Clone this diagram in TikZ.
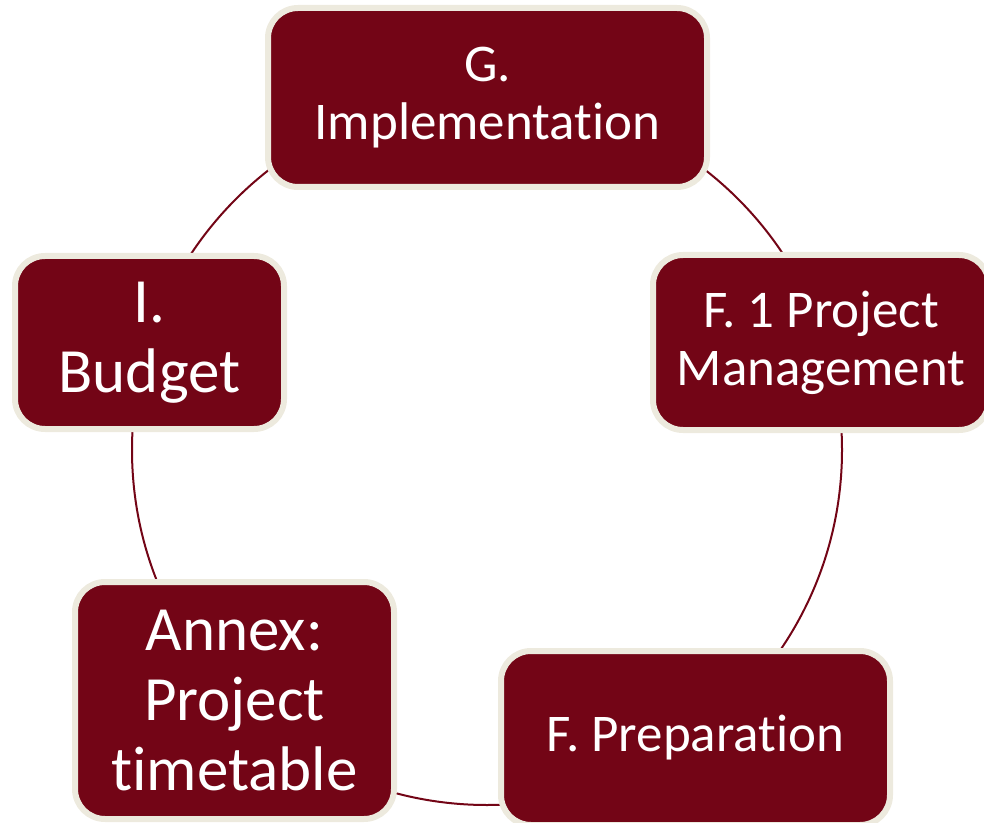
\documentclass[tikz,border=0pt]{standalone}
\usepackage{fontspec}
\setmainfont{Carlito}[Ligatures={NoCommon}]
\definecolor{boxred}{RGB}{115,5,22}
\definecolor{boxrim}{RGB}{237,234,222}
\tikzset{
  stage/.style={fill=boxred, draw=boxrim, line width=3pt, rounded corners=15pt,
    inner sep=0pt, align=center, text=white},
  small/.style={font=\fontsize{26.5}{29}\selectfont},
  large/.style={font=\fontsize{31.5}{35}\selectfont},
  ring/.style={draw=boxred, line width=1pt}
}
\begin{document}
\begin{tikzpicture}[x=0.5pt, y=-0.5pt]
  \useasboundingbox (0,0) rectangle (984,823);
  % the ring that links the stages
  \coordinate (hub) at (487,450);
  \draw[ring] (hub) circle [radius=177.5pt];
  % stages
  \node[stage, small, minimum width=219.5pt, minimum height=89.5pt]
    (impl) at (487.5,97.5) {G.\\Implementation};
  \node[stage, small, minimum width=168pt, minimum height=87.5pt]
    (mgmt) at (821,342.5) {F. 1 Project\\Management};
  \node[stage, small, minimum width=194.5pt, minimum height=87pt]
    (prep) at (695.5,738) {F. Preparation};
  \node[stage, large, minimum width=159.5pt, minimum height=118.5pt]
    (annex) at (234.5,700.5) {Annex:\\Project\\timetable};
  \node[stage, large, minimum width=134.5pt, minimum height=86.5pt]
    (budget) at (149.5,342.5) {I.\\Budget};
\end{tikzpicture}
\end{document}
